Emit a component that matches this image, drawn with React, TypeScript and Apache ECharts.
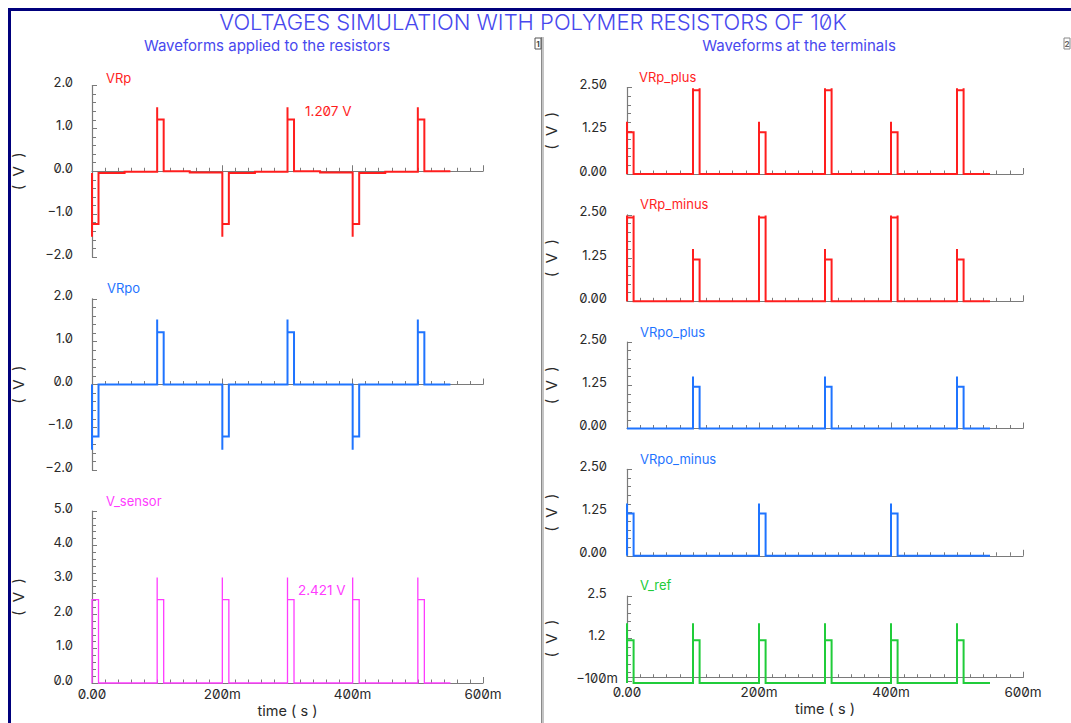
import React, { useEffect, useRef } from "react";
import * as echarts from "echarts";

// ---------- data (time in ms, values in volts) ----------
const mainTitle = "VOLTAGES SIMULATION WITH POLYMER RESISTORS OF 10K";
const leftSubtitle = "Waveforms applied to the resistors";
const rightSubtitle = "Waveforms at the terminals";

const xTicks = [0, 200, 400, 600];

const vrp: [number, number][] = [
  [0, -0.04], [0, -1.53], [0, -1.23], [10, -1.23], [10, -0.04], [50, -0.04], [50, -0.01], [100, -0.01],
  [100, 1.49], [100, 1.207], [110, 1.207], [110, 0.0], [150, 0.0], [150, -0.03], [200, -0.03],
  [200, -1.53], [200, -1.23], [210, -1.23], [210, -0.04], [250, -0.04], [250, -0.01], [300, -0.01],
  [300, 1.49], [300, 1.207], [310, 1.207], [310, 0.0], [350, 0.0], [350, -0.03], [400, -0.03],
  [400, -1.53], [400, -1.23], [410, -1.23], [410, -0.04], [450, -0.04], [450, -0.01], [500, -0.01],
  [500, 1.49], [500, 1.207], [510, 1.207], [510, 0.0], [550, 0.0],
];

const vrpo: [number, number][] = [
  [0, 0], [0, -1.52], [0, -1.21], [10, -1.21], [10, 0], [100, 0],
  [100, 1.52], [100, 1.22], [110, 1.22], [110, 0], [200, 0],
  [200, -1.52], [200, -1.21], [210, -1.21], [210, 0], [300, 0],
  [300, 1.52], [300, 1.22], [310, 1.22], [310, 0], [400, 0],
  [400, -1.52], [400, -1.21], [410, -1.21], [410, 0], [500, 0],
  [500, 1.52], [500, 1.22], [510, 1.22], [510, 0], [550, 0],
];

const vSensor: [number, number][] = [
  [0, 0], [0, 2.421], [10, 2.421], [10, 0], [100, 0],
  [100, 3.07], [100, 2.421], [110, 2.421], [110, 0], [200, 0],
  [200, 3.07], [200, 2.421], [210, 2.421], [210, 0], [300, 0],
  [300, 3.07], [300, 2.421], [310, 2.421], [310, 0], [400, 0],
  [400, 3.07], [400, 2.421], [410, 2.421], [410, 0], [500, 0],
  [500, 3.07], [500, 2.421], [510, 2.421], [510, 0], [550, 0],
];

const vrpPlus: [number, number][] = [
  [0, 0], [0, 1.51], [0, 1.21], [10, 1.21], [10, 0], [100, 0],
  [100, 2.48], [100, 2.42], [110, 2.42], [110, 2.48], [110, 0], [200, 0],
  [200, 1.51], [200, 1.21], [210, 1.21], [210, 0], [300, 0],
  [300, 2.48], [300, 2.42], [310, 2.42], [310, 2.48], [310, 0], [400, 0],
  [400, 1.51], [400, 1.21], [410, 1.21], [410, 0], [500, 0],
  [500, 2.48], [500, 2.42], [510, 2.42], [510, 2.48], [510, 0], [550, 0],
];

const vrpMinus: [number, number][] = [
  [0, 0], [0, 2.48], [0, 2.42], [10, 2.42], [10, 2.48], [10, 0], [100, 0],
  [100, 1.51], [100, 1.21], [110, 1.21], [110, 0], [200, 0],
  [200, 2.48], [200, 2.42], [210, 2.42], [210, 2.48], [210, 0], [300, 0],
  [300, 1.51], [300, 1.21], [310, 1.21], [310, 0], [400, 0],
  [400, 2.48], [400, 2.42], [410, 2.42], [410, 2.48], [410, 0], [500, 0],
  [500, 1.51], [500, 1.21], [510, 1.21], [510, 0], [550, 0],
];

const vrpoPlus: [number, number][] = [
  [0, 0], [100, 0], [100, 1.5], [100, 1.21], [110, 1.21], [110, 0], [300, 0],
  [300, 1.5], [300, 1.21], [310, 1.21], [310, 0], [500, 0],
  [500, 1.5], [500, 1.21], [510, 1.21], [510, 0], [550, 0],
];

const vrpoMinus: [number, number][] = [
  [0, 0], [0, 1.51], [0, 1.22], [10, 1.22], [10, 0], [200, 0],
  [200, 1.51], [200, 1.22], [210, 1.22], [210, 0], [400, 0],
  [400, 1.51], [400, 1.22], [410, 1.22], [410, 0], [550, 0],
];

const vRef: [number, number][] = [
  [0, -0.16], [0, 1.67], [0, 1.15], [10, 1.15], [10, -0.16], [100, -0.16],
  [100, 1.67], [100, 1.15], [110, 1.15], [110, -0.16], [200, -0.16],
  [200, 1.67], [200, 1.15], [210, 1.15], [210, -0.16], [300, -0.16],
  [300, 1.67], [300, 1.15], [310, 1.15], [310, -0.16], [400, -0.16],
  [400, 1.67], [400, 1.15], [410, 1.15], [410, -0.16], [500, -0.16],
  [500, 1.67], [500, 1.15], [510, 1.15], [510, -0.16], [550, -0.16],
];

const annotations = ["1.207 V", "2.421 V"];

// ---------- styling ----------
const FONT = "Inter, 'Liberation Sans', sans-serif";
const RED = "#ff1e1e";
const BLUE = "#1f74ff";
const MAGENTA = "#ff3cff";
const GREEN = "#20cc3a";
const TITLE_BLUE = "#4848ee";
const AXIS_GRAY = "#7a7a7a";
const TEXT = "#2a2a2a";

type Panel = {
  name: string;
  data: [number, number][];
  color: string;
  lw: number;
  grid: { left: number; top: number; width: number; height: number };
  y: { min: number; max: number; interval: number; fmt: (v: number) => string; align?: string; margin: number };
  bottom: boolean;
  nameX: number;
  nameY: number;
};

const minus = (s: string) => s.replace("-", "\u2212");
const f1 = (v: number) => minus((Math.round(v * 10) / 10).toFixed(1));
const f2 = (v: number) => minus((Math.round(v * 100) / 100).toFixed(2));
const fRef = (v: number) => (Math.abs(v + 0.1) < 1e-6 ? "\u2212100m" : (Math.round(v * 10) / 10).toFixed(1));

const LX = 92, LW = 391, LH = 171.5;
const RX = 627, RW = 396, RH = 86.5;

const panels: Panel[] = [
  { name: "VRp", data: vrp, color: RED, lw: 2, grid: { left: LX, top: 85.5, width: LW, height: LH },
    y: { min: -2, max: 2, interval: 1, fmt: f1, margin: 19 }, bottom: false, nameX: 106, nameY: 78 },
  { name: "VRpo", data: vrpo, color: BLUE, lw: 2, grid: { left: LX, top: 298.8, width: LW, height: LH },
    y: { min: -2, max: 2, interval: 1, fmt: f1, margin: 19 }, bottom: false, nameX: 107, nameY: 288 },
  { name: "V_sensor", data: vSensor, color: MAGENTA, lw: 1.3, grid: { left: LX, top: 511, width: LW, height: 172 },
    y: { min: 0, max: 5, interval: 1, fmt: f1, margin: 19 }, bottom: true, nameX: 106, nameY: 501 },
  { name: "VRp_plus", data: vrpPlus, color: RED, lw: 2, grid: { left: RX, top: 87.5, width: RW, height: RH },
    y: { min: 0, max: 2.5, interval: 1.25, fmt: f2, margin: 20 }, bottom: false, nameX: 639, nameY: 77 },
  { name: "VRp_minus", data: vrpMinus, color: RED, lw: 2, grid: { left: RX, top: 214.8, width: RW, height: RH },
    y: { min: 0, max: 2.5, interval: 1.25, fmt: f2, margin: 20 }, bottom: false, nameX: 640, nameY: 204 },
  { name: "VRpo_plus", data: vrpoPlus, color: BLUE, lw: 2, grid: { left: RX, top: 342, width: RW, height: RH },
    y: { min: 0, max: 2.5, interval: 1.25, fmt: f2, margin: 20 }, bottom: false, nameX: 640, nameY: 331.5 },
  { name: "VRpo_minus", data: vrpoMinus, color: BLUE, lw: 2, grid: { left: RX, top: 469.3, width: RW, height: RH },
    y: { min: 0, max: 2.5, interval: 1.25, fmt: f2, margin: 20 }, bottom: false, nameX: 640, nameY: 458.5 },
  { name: "V_ref", data: vRef, color: GREEN, lw: 2, grid: { left: RX, top: 596, width: RW, height: 85 },
    y: { min: -0.1, max: 2.5, interval: 1.3, fmt: fRef, align: "center", margin: 30 }, bottom: true, nameX: 640, nameY: 585 },
];

function buildOption() {
  const grid = panels.map((p) => ({ ...p.grid, containLabel: false }));
  const xAxis = panels.map((p, i) => ({
    type: "value",
    gridIndex: i,
    min: xTicks[0],
    max: xTicks[xTicks.length - 1],
    interval: xTicks[1] - xTicks[0],
    axisLine: { show: true, lineStyle: { color: AXIS_GRAY, width: 1.2 } },
    axisTick: { show: true, inside: true, length: 6, lineStyle: { color: AXIS_GRAY, width: 1 } },
    minorTick: { show: true, splitNumber: 10, length: 3.5, lineStyle: { color: AXIS_GRAY, width: 1 } },
    splitLine: { show: false },
    minorSplitLine: { show: false },
    axisLabel: {
      show: p.bottom,
      margin: 4,
      fontFamily: FONT,
      fontSize: 13.5,
      color: TEXT,
      formatter: (v: number) => (v === 0 ? "0.00" : `${v}m`),
      showMinLabel: true,
      showMaxLabel: true,
    },
    name: p.bottom ? "time ( s )" : "",
    nameLocation: "middle",
    nameGap: 20,
    nameTextStyle: { fontFamily: FONT, fontSize: 14.5, color: TEXT },
  }));
  const yAxis = panels.map((p, i) => ({
    type: "value",
    gridIndex: i,
    min: p.y.min,
    max: p.y.max,
    interval: p.y.interval,
    axisLine: { show: true, lineStyle: { color: AXIS_GRAY, width: 1.2 } },
    axisTick: { show: true, inside: true, length: 5, lineStyle: { color: AXIS_GRAY, width: 1 } },
    minorTick: { show: true, splitNumber: 5, length: 4, lineStyle: { color: AXIS_GRAY, width: 1 } },
    splitLine: { show: false },
    minorSplitLine: { show: false },
    axisLabel: {
      show: true,
      margin: p.y.margin,
      align: p.y.align || "right",
      verticalAlign: "bottom",
      lineHeight: 7,
      fontFamily: FONT,
      fontSize: 13,
      color: TEXT,
      formatter: p.y.fmt,
      showMinLabel: true,
      showMaxLabel: true,
    },
    name: "(  V  )",
    nameLocation: "middle",
    nameGap: i < 3 ? 66 : 68,
    nameTextStyle: { fontFamily: FONT, fontSize: 15, color: TEXT },
  }));
  const series = panels.map((p, i) => ({
    type: "line",
    name: p.name,
    xAxisIndex: i,
    yAxisIndex: i,
    data: p.data,
    showSymbol: false,
    symbol: "none",
    clip: false,
    z: 3,
    lineStyle: { color: p.color, width: p.lw, join: "miter", cap: "butt" },
    itemStyle: { color: p.color },
  }));

  const graphic: any[] = [
    // navy frame (left and top)
    { type: "rect", shape: { x: 8, y: 8, width: 3, height: 715 }, style: { fill: "#00007c" }, z: 10 },
    { type: "rect", shape: { x: 8, y: 8, width: 1063, height: 3 }, style: { fill: "#00007c" }, z: 10 },
    // middle divider
    { type: "rect", shape: { x: 541, y: 37, width: 3, height: 686 }, style: { fill: "#c4c4c4" }, z: 10 },
    { type: "rect", shape: { x: 541, y: 37, width: 1, height: 686 }, style: { fill: "#8a8a8a" }, z: 10 },
    // small panel icons
    { type: "rect", shape: { x: 535, y: 38, width: 6, height: 11 }, style: { fill: "#ffffff", stroke: "#555", lineWidth: 1 }, z: 10 },
    { type: "text", style: { text: "1", x: 538, y: 43.5, fill: "#444", font: `bold 8px ${FONT}`, align: "center", verticalAlign: "middle" }, z: 11 },
    { type: "rect", shape: { x: 1064, y: 38, width: 6, height: 11 }, style: { fill: "#ffffff", stroke: "#888", lineWidth: 1 }, z: 10 },
    { type: "text", style: { text: "2", x: 1067, y: 43.5, fill: "#666", font: `bold 8px ${FONT}`, align: "center", verticalAlign: "middle" }, z: 11 },
    // titles
    { type: "text", style: { text: mainTitle, x: 533, y: 21.5, fill: TITLE_BLUE, font: `300 22px ${FONT}`, align: "center", verticalAlign: "middle" }, z: 10 },
    { type: "text", style: { text: leftSubtitle, x: 267, y: 45, fill: TITLE_BLUE, font: `15px ${FONT}`, align: "center", verticalAlign: "middle" }, z: 10 },
    { type: "text", style: { text: rightSubtitle, x: 799, y: 45, fill: TITLE_BLUE, font: `15px ${FONT}`, align: "center", verticalAlign: "middle" }, z: 10 },
    // annotations
    { type: "text", style: { text: annotations[0], x: 305, y: 110.5, fill: RED, font: `13.5px ${FONT}`, align: "left", verticalAlign: "middle" }, z: 10 },
    { type: "text", style: { text: annotations[1], x: 298, y: 590, fill: MAGENTA, font: `13.5px ${FONT}`, align: "left", verticalAlign: "middle" }, z: 10 },
  ];
  panels.forEach((p) => {
    graphic.push({
      type: "text",
      style: { text: p.name, x: p.nameX, y: p.nameY, fill: p.color, font: `13px ${FONT}`, align: "left", verticalAlign: "middle" },
      z: 10,
    });
  });

  return {
    animation: false,
    backgroundColor: "#ffffff",
    textStyle: { fontFamily: FONT },
    grid,
    xAxis,
    yAxis,
    series,
    graphic,
  };
}

export default function App() {
  const ref = useRef<HTMLDivElement>(null);
  useEffect(() => {
    document.body.style.margin = "0";
    const chart = echarts.init(ref.current!, null, { renderer: "svg" });
    chart.setOption(buildOption() as any);
    return () => chart.dispose();
  }, []);
  return (
    <div>
      <style>{`#chart-root text { font-feature-settings: "zero" 1 !important; font-variant-numeric: slashed-zero !important; }`}</style>
      <div id="chart-root" ref={ref} style={{ width: 1071, height: 723 }} />
    </div>
  );
}
